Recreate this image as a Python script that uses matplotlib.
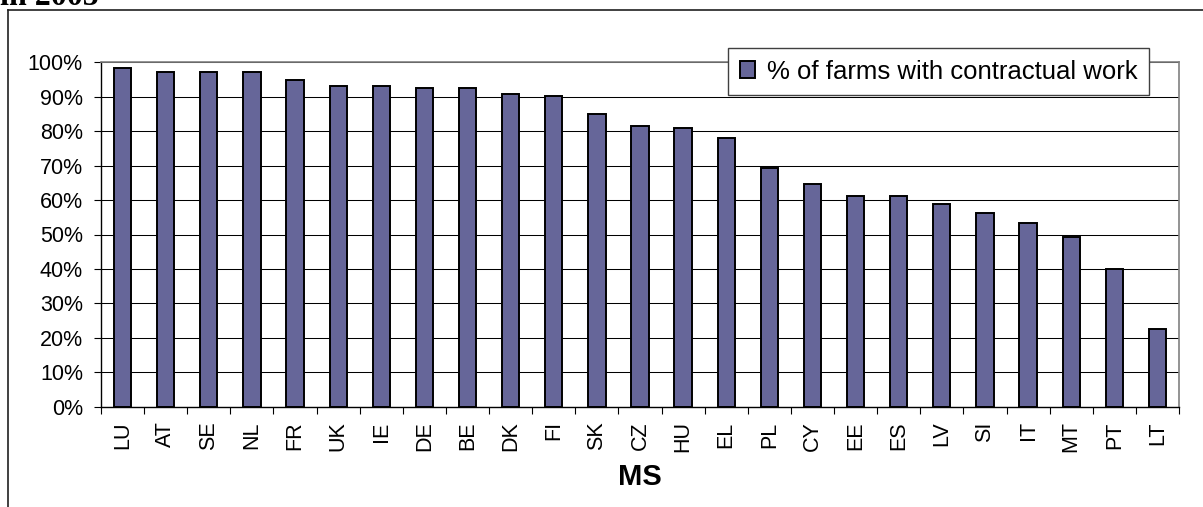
import matplotlib.pyplot as plt
from matplotlib.lines import Line2D
from matplotlib.ticker import FixedLocator, PercentFormatter

plt.rcParams['font.family'] = ['Liberation Sans', 'DejaVu Sans']

# share of farms using contractual work, by member state (2005)
countries = ['LU', 'AT', 'SE', 'NL', 'FR', 'UK', 'IE', 'DE', 'BE', 'DK', 'FI', 'SK', 'CZ',
             'HU', 'EL', 'PL', 'CY', 'EE', 'ES', 'LV', 'SI', 'IT', 'MT', 'PT', 'LT']
share = [98.4, 97.3, 97.3, 97.3, 94.9, 93.2, 93.0, 92.6, 92.6, 90.7, 90.2, 85.0, 81.5,
         81.0, 78.1, 69.4, 64.8, 61.3, 61.3, 58.9, 56.2, 53.2, 49.2, 39.9, 22.6]
yticks = list(range(0, 101, 10))

W, H = 1203, 507
fig = plt.figure(figsize=(W / 100, H / 100), dpi=100, facecolor='white')
ax = fig.add_axes([101 / W, 1 - 406.7 / H, (1179 - 101) / W, (406.7 - 62.3) / H])

x = list(range(len(countries)))
ax.bar(x, share, width=0.4, color='#666699', edgecolor='black', linewidth=1.4,
       label='% of farms with contractual work', zorder=3)

ax.set_xlim(-0.5, len(countries) - 0.5)
ax.set_ylim(0, 100)

# y axis
ax.set_yticks(yticks)
ax.yaxis.set_major_formatter(PercentFormatter(decimals=0))
ax.tick_params(axis='y', direction='out', length=5, width=0.8, pad=8.0,
               labelsize=15.5, color='black')
ax.yaxis.grid(True, color='black', linewidth=0.75)
ax.set_axisbelow(True)

# x axis: labels under bars, tick marks between categories
ax.set_xticks(x)
ax.set_xticklabels(countries, rotation=90, va='top', ha='center')
ax.tick_params(axis='x', which='major', length=0, pad=10.5, labelsize=15.5)
ax.xaxis.set_minor_locator(FixedLocator([i - 0.5 for i in range(len(countries) + 1)]))
ax.tick_params(axis='x', which='minor', direction='out', length=5, width=0.8, color='black')

for side in ['left', 'bottom']:
    ax.spines[side].set_color('black')
    ax.spines[side].set_linewidth(1.0)
for side in ['top', 'right']:
    ax.spines[side].set_color('#808080')
    ax.spines[side].set_linewidth(1.2)

fig.text(640 / W, 1 - 477 / H, 'MS', fontsize=21, fontweight='bold', ha='center', va='center')

leg = ax.legend(loc='upper right', bbox_to_anchor=(1149 / W, 1 - 48 / H),
                bbox_transform=fig.transFigure, borderaxespad=0, fancybox=False,
                frameon=True, framealpha=1, edgecolor='#404040', fontsize=18.5,
                handlelength=0.6, handleheight=0.6, handletextpad=0.45,
                borderpad=0.45)
leg.get_frame().set_linewidth(1.0)

# outer chart frame and heading above it
fig.add_artist(Line2D([8 / W, 8 / W], [0, 1 - 10 / H], color='#202020', linewidth=1.2))
fig.add_artist(Line2D([8 / W, 1], [1 - 10 / H, 1 - 10 / H], color='#202020', linewidth=1.2))
fig.text(0, 1 - 5 / H, 'in 2005', fontsize=23, fontweight='bold',
         family=['Liberation Serif', 'DejaVu Serif'], ha='left', va='baseline')

fig.savefig('out.png', dpi=100, facecolor='white')
